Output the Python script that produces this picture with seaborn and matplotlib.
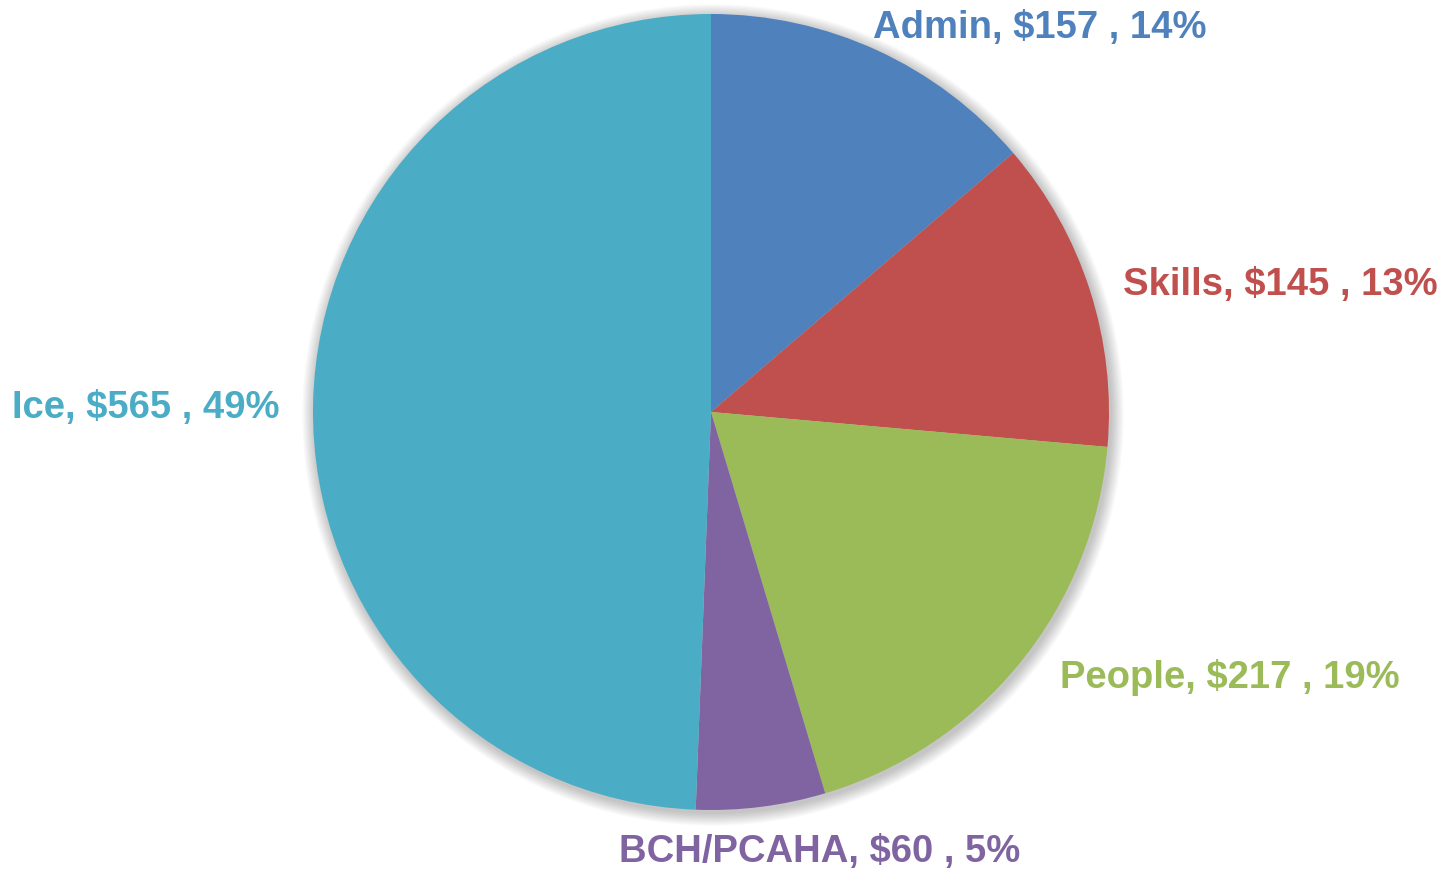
import matplotlib.pyplot as plt
from matplotlib.patches import Circle
import seaborn as sns

# data
categories = ["Admin", "Skills", "People", "BCH/PCAHA", "Ice"]
amounts = [157, 145, 217, 60, 565]
colors = ["#4F81BD", "#C0504D", "#9BBB59", "#8064A2", "#4BACC6"]

sns.set_theme(style="white")
plt.rcParams['font.family'] = ['Liberation Sans', 'DejaVu Sans']

W, H = 1444, 872
fig = plt.figure(figsize=(W / 100, H / 100), dpi=100)
ax = fig.add_axes([0, 0, 1, 1])
ax.set_xlim(0, W)
ax.set_ylim(0, H)
ax.set_aspect("equal")
ax.axis("off")

cx, cy, r = 711, H - 412, 398

# soft shadow behind the pie
for k in range(10):
    ax.add_patch(Circle((cx + 2, cy - 3), r + 1 + k * 1.3, color="black",
                        alpha=0.022, lw=0, zorder=0))

ax.pie(amounts, colors=colors, startangle=90, counterclock=False,
       center=(cx, cy), radius=r, frame=True,
       wedgeprops=dict(linewidth=0, zorder=2))
ax.set_xlim(0, W)
ax.set_ylim(0, H)
ax.axis("off")

total = sum(amounts)
label_pos = [(1040, 28), (1280, 285), (1230, 677), (820, 852), (146, 408)]
for cat, amt, col, (x, y) in zip(categories, amounts, colors, label_pos):
    pct = round(100 * amt / total)
    ax.text(x, H - y, f"{cat}, ${amt} , {pct}%", color=col, fontsize=27.5,
            fontweight="bold", ha="center", va="center", zorder=5)

fig.savefig("out.png", dpi=100, facecolor="white")
